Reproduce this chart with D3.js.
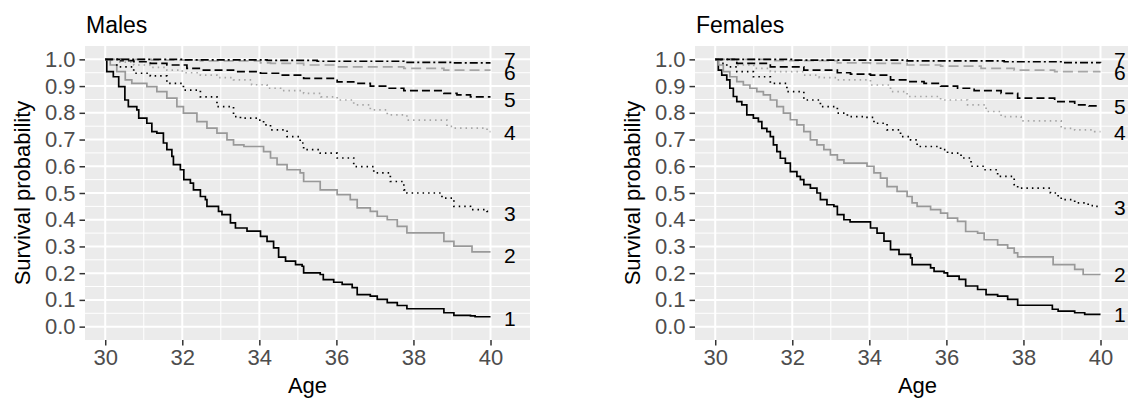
<!DOCTYPE html>
<html>
<head>
<meta charset="utf-8">
<script src="https://cdn.jsdelivr.net/npm/d3@7"></script>
<style>
  body { margin:0; background:#fff; }
  svg text { font-family:"Liberation Sans", Arial, sans-serif; }
</style>
</head>
<body>
<div id="chart"></div>
<script>
// tick values and curve names
var xTicks = [30, 32, 34, 36, 38, 40];
var yTicks = [0, 0.1, 0.2, 0.3, 0.4, 0.5, 0.6, 0.7, 0.8, 0.9, 1.0];
var curveNames = ["1", "2", "3", "4", "5", "6", "7"];

// survival curves, [age, survival] step points
var male1 = [[30,1],[30.04,0.954],[30.21,0.935],[30.35,0.898],[30.51,0.848],[30.6,0.823],[30.82,0.811],[30.87,0.78],[31.08,0.761],[31.21,0.73],[31.34,0.724],[31.51,0.687],[31.6,0.662],[31.73,0.637],[31.77,0.606],[31.95,0.587],[32.04,0.55],[32.21,0.537],[32.29,0.512],[32.47,0.487],[32.6,0.475],[32.64,0.45],[32.94,0.431],[33.03,0.419],[33.25,0.388],[33.38,0.369],[33.68,0.357],[34.03,0.338],[34.2,0.319],[34.37,0.295],[34.5,0.26],[34.68,0.245],[34.94,0.232],[35.11,0.226],[35.15,0.201],[35.58,0.195],[35.66,0.176],[35.93,0.166],[36.15,0.158],[36.41,0.146],[36.54,0.12],[36.88,0.114],[37.06,0.102],[37.32,0.09],[37.58,0.079],[37.83,0.067],[38.79,0.052],[39.05,0.042],[39.48,0.04],[39.6,0.037],[40,0.037]];
var male2 = [[30,1],[30.13,0.979],[30.3,0.954],[30.52,0.923],[30.69,0.91],[31.08,0.898],[31.34,0.879],[31.6,0.855],[31.86,0.823],[32.03,0.799],[32.38,0.767],[32.64,0.743],[32.9,0.724],[33.16,0.699],[33.33,0.68],[33.6,0.674],[34.11,0.655],[34.29,0.631],[34.46,0.606],[34.72,0.587],[35.06,0.575],[35.15,0.543],[35.58,0.512],[36.02,0.494],[36.36,0.475],[36.54,0.444],[36.88,0.431],[37.06,0.413],[37.32,0.4],[37.58,0.375],[37.83,0.351],[38.79,0.319],[39.05,0.301],[39.52,0.28],[40,0.28]];
var male3 = [[30,1],[30.3,0.972],[30.74,0.948],[31.17,0.938],[31.6,0.91],[32.03,0.885],[32.47,0.86],[32.9,0.823],[33.33,0.786],[33.51,0.78],[33.94,0.773],[34.11,0.755],[34.29,0.736],[34.72,0.711],[35.06,0.687],[35.15,0.662],[35.58,0.649],[36.02,0.631],[36.45,0.599],[36.97,0.575],[37.4,0.543],[37.75,0.512],[37.83,0.5],[38.74,0.481],[39.05,0.45],[39.48,0.438],[39.91,0.431],[40,0.431]];
var male4 = [[30,1],[30.3,0.99],[30.74,0.979],[31.2,0.97],[31.6,0.96],[32.0,0.95],[32.47,0.941],[32.9,0.932],[33.33,0.923],[33.8,0.905],[34.2,0.892],[34.55,0.883],[35.15,0.873],[35.6,0.86],[36.02,0.848],[36.45,0.83],[36.88,0.811],[37.32,0.792],[37.83,0.773],[38.87,0.749],[39.05,0.743],[39.91,0.73],[40,0.73]];
var male5 = [[30,1],[30.4,0.995],[30.74,0.991],[31.17,0.985],[31.6,0.979],[32.12,0.966],[32.47,0.96],[33.33,0.954],[34.03,0.948],[34.55,0.941],[35.15,0.929],[36.02,0.916],[36.45,0.91],[36.88,0.9],[37.32,0.892],[37.75,0.883],[38.79,0.873],[39.13,0.867],[39.48,0.86],[40,0.86]];
var male6 = [[30,1],[31.2,0.997],[32.47,0.994],[34.03,0.987],[34.29,0.985],[35.15,0.979],[36.02,0.972],[37.75,0.966],[38.79,0.96],[40,0.96]];
var male7 = [[30,1],[32,0.998],[34.2,0.996],[35.5,0.993],[37.75,0.989],[39,0.987],[40,0.987]];

var female1 = [[30,1],[30.08,0.96],[30.17,0.941],[30.3,0.923],[30.38,0.892],[30.47,0.861],[30.56,0.842],[30.69,0.83],[30.82,0.792],[30.99,0.78],[31.12,0.767],[31.21,0.742],[31.34,0.73],[31.43,0.711],[31.51,0.68],[31.6,0.655],[31.69,0.63],[31.82,0.612],[31.95,0.58],[32.12,0.562],[32.21,0.55],[32.3,0.531],[32.47,0.518],[32.64,0.5],[32.73,0.475],[32.9,0.456],[33.08,0.45],[33.17,0.419],[33.34,0.4],[33.5,0.392],[34.03,0.369],[34.2,0.35],[34.38,0.32],[34.55,0.288],[34.77,0.27],[35.07,0.257],[35.11,0.232],[35.59,0.22],[35.68,0.207],[35.94,0.201],[36.03,0.189],[36.33,0.177],[36.5,0.152],[36.81,0.139],[37.03,0.12],[37.33,0.114],[37.59,0.102],[37.85,0.08],[38.75,0.065],[38.9,0.058],[39.33,0.052],[39.59,0.046],[40,0.046]];
var female2 = [[30,1],[30.08,0.979],[30.21,0.954],[30.38,0.935],[30.56,0.917],[30.73,0.904],[30.9,0.892],[31.08,0.879],[31.25,0.867],[31.43,0.848],[31.6,0.823],[31.77,0.799],[31.95,0.774],[32.12,0.755],[32.3,0.73],[32.47,0.699],[32.64,0.68],[32.82,0.662],[32.99,0.643],[33.17,0.624],[33.34,0.612],[33.94,0.6],[34.12,0.575],[34.29,0.556],[34.46,0.524],[34.72,0.506],[34.98,0.487],[35.11,0.463],[35.24,0.45],[35.59,0.438],[35.85,0.425],[36.03,0.406],[36.29,0.394],[36.5,0.356],[36.81,0.35],[36.98,0.325],[37.33,0.306],[37.59,0.294],[37.76,0.276],[37.85,0.261],[38.77,0.232],[39.33,0.214],[39.55,0.195],[40,0.195]];
var female3 = [[30,1],[30.15,0.985],[30.3,0.972],[30.56,0.954],[30.99,0.935],[31.43,0.91],[31.86,0.879],[32.3,0.848],[32.73,0.823],[33.17,0.799],[33.43,0.786],[33.94,0.783],[34.12,0.761],[34.46,0.736],[34.81,0.711],[35.07,0.699],[35.24,0.674],[35.85,0.662],[36.03,0.649],[36.38,0.631],[36.64,0.6],[36.98,0.587],[37.33,0.562],[37.76,0.531],[37.85,0.518],[38.7,0.5],[38.9,0.487],[38.98,0.475],[39.33,0.463],[39.68,0.453],[39.85,0.45],[40,0.45]];
var female4 = [[30,1],[30.56,0.979],[31.0,0.966],[31.43,0.954],[32.3,0.941],[32.7,0.932],[33.17,0.923],[34.03,0.904],[34.55,0.879],[34.98,0.861],[35.85,0.848],[36.55,0.83],[37.03,0.805],[37.42,0.786],[37.94,0.77],[38.98,0.742],[39.33,0.736],[39.85,0.73],[40,0.73]];
var female5 = [[30,1],[30.56,0.985],[31.43,0.972],[32.3,0.96],[33.17,0.95],[33.51,0.945],[34.03,0.941],[34.55,0.923],[34.98,0.917],[35.42,0.91],[35.85,0.9],[36.29,0.892],[36.72,0.883],[37.42,0.873],[37.85,0.855],[38.81,0.842],[39.33,0.83],[39.7,0.826],[40,0.826]];
var female6 = [[30,1],[31.5,0.995],[33.17,0.987],[34.03,0.985],[34.98,0.979],[35.85,0.975],[36.9,0.966],[37.76,0.96],[38.81,0.954],[40,0.954]];
var female7 = [[30,1],[32,0.997],[34.98,0.994],[37.5,0.991],[39,0.988],[40,0.987]];

// where the curve numbers sit (survival value), 7 and 6 nudged apart
var maleLabelY = [0.03, 0.265, 0.425, 0.725, 0.85, 0.95, 1.0];
var femaleLabelY = [0.045, 0.195, 0.445, 0.725, 0.825, 0.95, 1.0];
var labelAge = 40.5;

var lineStyles = [
  {col:"#000000", dash:null},
  {col:"#999999", dash:null},
  {col:"#000000", dash:"1.5,4"},
  {col:"#a6a6a6", dash:"1.5,4"},
  {col:"#000000", dash:"8,4"},
  {col:"#a6a6a6", dash:"10,5"},
  {col:"#000000", dash:"8,3,2,3"}
];

var W = 1128, H = 398;
var svg = d3.select("#chart").append("svg").attr("width", W).attr("height", H);

function drawPanel(title, curves, labelY, left){
  var pw = 445, top = 46, bottom = 340;
  var x = d3.scaleLinear().domain([29.475, 41.025]).range([left, left+pw]);
  var y = d3.scaleLinear().domain([-0.05, 1.05]).range([bottom, top]);
  var g = svg.append("g");

  g.append("rect")
    .attr("x", left).attr("y", top)
    .attr("width", pw).attr("height", bottom-top)
    .attr("fill", "#ebebeb");

  //minor grid
  var minorY = d3.range(0.05, 1.0, 0.1);
  var minorX = [31, 33, 35, 37, 39];
  g.selectAll(".my").data(minorY).enter().append("line")
    .attr("x1", left).attr("x2", left+pw)
    .attr("y1", function(d){ return y(d); }).attr("y2", function(d){ return y(d); })
    .attr("stroke", "#fff").attr("stroke-width", 1);
  g.selectAll(".mx").data(minorX).enter().append("line")
    .attr("y1", top).attr("y2", bottom)
    .attr("x1", function(d){ return x(d); }).attr("x2", function(d){ return x(d); })
    .attr("stroke", "#fff").attr("stroke-width", 1);

  //major grid
  g.selectAll(".gy").data(yTicks).enter().append("line")
    .attr("x1", left).attr("x2", left+pw)
    .attr("y1", function(d){ return y(d); }).attr("y2", function(d){ return y(d); })
    .attr("stroke", "#fff").attr("stroke-width", 2);
  g.selectAll(".gx").data(xTicks).enter().append("line")
    .attr("y1", top).attr("y2", bottom)
    .attr("x1", function(d){ return x(d); }).attr("x2", function(d){ return x(d); })
    .attr("stroke", "#fff").attr("stroke-width", 2);

  //curves
  var line = d3.line()
    .x(function(d){ return x(d[0]); })
    .y(function(d){ return y(d[1]); })
    .curve(d3.curveStepAfter);

  curves.forEach(function(c, i){
    var st = lineStyles[i];
    g.append("path")
      .datum(c)
      .attr("d", line)
      .attr("fill", "none")
      .attr("stroke", st.col)
      .attr("stroke-width", 1.7)
      .attr("stroke-dasharray", st.dash);
  });

  //curve numbers
  g.selectAll(".lab").data(curveNames).enter().append("text")
    .attr("x", x(labelAge))
    .attr("y", function(d, i){ return y(labelY[i]); })
    .attr("text-anchor", "middle")
    .attr("dominant-baseline", "central")
    .attr("font-size", 21)
    .attr("fill", "#000")
    .text(function(d){ return d; });

  //axes
  var ax = g.append("g")
    .attr("transform", "translate(0," + bottom + ")")
    .call(d3.axisBottom(x).tickValues(xTicks).tickSize(5.5).tickPadding(4));
  var ay = g.append("g")
    .attr("transform", "translate(" + left + ",0)")
    .call(d3.axisLeft(y).tickValues(yTicks).tickSize(5.5).tickPadding(4).tickFormat(d3.format(".1f")));
  [ax, ay].forEach(function(a){
    a.select(".domain").remove();
    a.selectAll(".tick line").attr("stroke", "#333").attr("stroke-width", 1.5);
    a.selectAll(".tick text")
      .attr("fill", "#4d4d4d")
      .attr("font-size", 22)
      .style("font-family", "'Liberation Sans', Arial, sans-serif");
  });

  //titles
  g.append("text")
    .attr("x", left+1).attr("y", 33)
    .attr("font-size", 23).attr("fill", "#000")
    .text(title);
  g.append("text")
    .attr("x", left+pw/2).attr("y", 393)
    .attr("text-anchor", "middle")
    .attr("font-size", 22).attr("fill", "#000")
    .text("Age");
  g.append("text")
    .attr("transform", "translate(" + (left-55) + "," + ((top+bottom)/2) + ") rotate(-90)")
    .attr("text-anchor", "middle")
    .attr("font-size", 22).attr("fill", "#000")
    .text("Survival probability");
}

drawPanel("Males", [male1, male2, male3, male4, male5, male6, male7], maleLabelY, 85);
drawPanel("Females", [female1, female2, female3, female4, female5, female6, female7], femaleLabelY, 695);
</script>
</body>
</html>
